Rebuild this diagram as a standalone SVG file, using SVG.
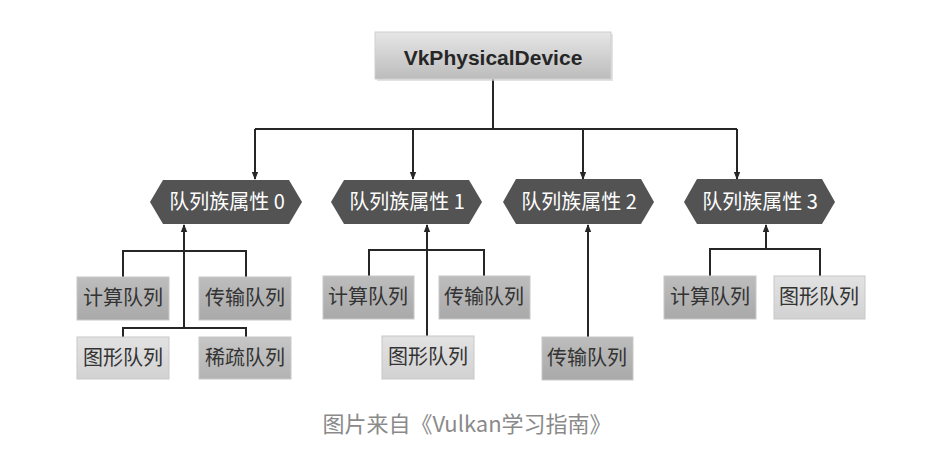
<svg xmlns="http://www.w3.org/2000/svg" width="942" height="476" viewBox="0 0 942 476">
<style>
.ln{fill:none;stroke:#262626;stroke-width:2}
.hex{fill:#535353}
.ht{font-family:"Noto Sans CJK SC","Noto Sans",sans-serif;font-size:20px;fill:#ffffff;text-anchor:middle}
.bt{font-family:"Noto Sans CJK SC",sans-serif;font-size:20px;fill:#333333;text-anchor:middle}
.bx{stroke:#c8c8c8;stroke-width:1}
</style>
<defs>
<marker id="ah" viewBox="0 0 8 8" refX="7" refY="4" markerWidth="8" markerHeight="8" markerUnits="userSpaceOnUse" orient="auto">
<path d="M0,0.8 L8,4 L0,7.2 Z" fill="#262626"/>
</marker>
<linearGradient id="gTop" x1="0" y1="0" x2="0" y2="1">
<stop offset="0" stop-color="#e6e6e6"/><stop offset="1" stop-color="#bcbcbc"/>
</linearGradient>
<linearGradient id="gDark" x1="0" y1="0" x2="0" y2="1">
<stop offset="0" stop-color="#bdbdbd"/><stop offset="1" stop-color="#a9a9a9"/>
</linearGradient>
<linearGradient id="gMid" x1="0" y1="0" x2="0" y2="1">
<stop offset="0" stop-color="#c6c6c6"/><stop offset="1" stop-color="#b3b3b3"/>
</linearGradient>
<linearGradient id="gLight" x1="0" y1="0" x2="0" y2="1">
<stop offset="0" stop-color="#e2e2e2"/><stop offset="1" stop-color="#d2d2d2"/>
</linearGradient>
</defs>
<rect width="942" height="476" fill="#ffffff"/>

<g id="connectors">
<path class="ln" d="M493,79 V129 M255,129 H737"/>
<path class="ln" d="M255,129 V179" marker-end="url(#ah)"/>
<path class="ln" d="M413,129 V179" marker-end="url(#ah)"/>
<path class="ln" d="M583,129 V179" marker-end="url(#ah)"/>
<path class="ln" d="M737,129 V179" marker-end="url(#ah)"/>
<path class="ln" d="M184,328 V225" marker-end="url(#ah)"/>
<path class="ln" d="M123,277 V251 H246 V277 M123,337 V328 H246 V337"/>
<path class="ln" d="M427,336 V225" marker-end="url(#ah)"/>
<path class="ln" d="M369,276 V250 H484 V276"/>
<path class="ln" d="M588,337 V225" marker-end="url(#ah)"/>
<path class="ln" d="M766,249 V225" marker-end="url(#ah)"/>
<path class="ln" d="M710,276 V249 H820 V276"/>
</g>

<g id="root">
<rect x="377" y="34" width="236" height="47" fill="#d0d0d0" opacity="0.6"/>
<rect x="375" y="32" width="236" height="47" fill="url(#gTop)" stroke="#cfcfcf" stroke-width="1"/>
<text x="493" y="65" font-family="'Liberation Sans',Arial,sans-serif" font-weight="bold" font-size="21" fill="#262626" text-anchor="middle">VkPhysicalDevice</text>
</g>

<g id="qf0">
<polygon class="hex" points="150,202 163,180 289,180 302,202 289,224 163,224"/>
<text class="ht" x="227" y="209">队列族属性 0</text>
</g>
<g id="qf1">
<polygon class="hex" points="331,202 344,180 469,180 482,202 469,224 344,224"/>
<text class="ht" x="407" y="209">队列族属性 1</text>
</g>
<g id="qf2">
<polygon class="hex" points="503,202 516,179 641,179 654,202 641,224 516,224"/>
<text class="ht" x="579" y="209">队列族属性 2</text>
</g>
<g id="qf3">
<polygon class="hex" points="684,202 697,179 822,179 835,202 822,224 697,224"/>
<text class="ht" x="760" y="209">队列族属性 3</text>
</g>

<g id="q0-compute"><rect class="bx" x="77" y="277" width="92" height="43" fill="url(#gDark)"/><text class="bt" x="123" y="305">计算队列</text></g>
<g id="q0-transfer"><rect class="bx" x="199" y="277" width="92" height="43" fill="url(#gDark)"/><text class="bt" x="245" y="305">传输队列</text></g>
<g id="q0-graphics"><rect class="bx" x="77" y="337" width="92" height="42" fill="url(#gLight)"/><text class="bt" x="123" y="365">图形队列</text></g>
<g id="q0-sparse"><rect class="bx" x="199" y="337" width="92" height="42" fill="url(#gMid)"/><text class="bt" x="245" y="365">稀疏队列</text></g>

<g id="q1-compute"><rect class="bx" x="323" y="276" width="91" height="43" fill="url(#gDark)"/><text class="bt" x="368" y="304">计算队列</text></g>
<g id="q1-transfer"><rect class="bx" x="439" y="276" width="91" height="43" fill="url(#gDark)"/><text class="bt" x="484" y="304">传输队列</text></g>
<g id="q1-graphics"><rect class="bx" x="382" y="336" width="92" height="43" fill="url(#gLight)"/><text class="bt" x="428" y="364">图形队列</text></g>

<g id="q2-transfer"><rect class="bx" x="542" y="337" width="91" height="43" fill="url(#gDark)"/><text class="bt" x="587" y="365">传输队列</text></g>

<g id="q3-compute"><rect class="bx" x="664" y="276" width="92" height="43" fill="url(#gDark)"/><text class="bt" x="710" y="304">计算队列</text></g>
<g id="q3-graphics"><rect class="bx" x="774" y="276" width="91" height="43" fill="url(#gLight)"/><text class="bt" x="819" y="304">图形队列</text></g>

<text x="467" y="432" font-family="'Noto Sans CJK SC','Noto Sans',sans-serif" font-size="22" fill="#8a8a8a" text-anchor="middle">图片来自《Vulkan学习指南》</text>
</svg>
